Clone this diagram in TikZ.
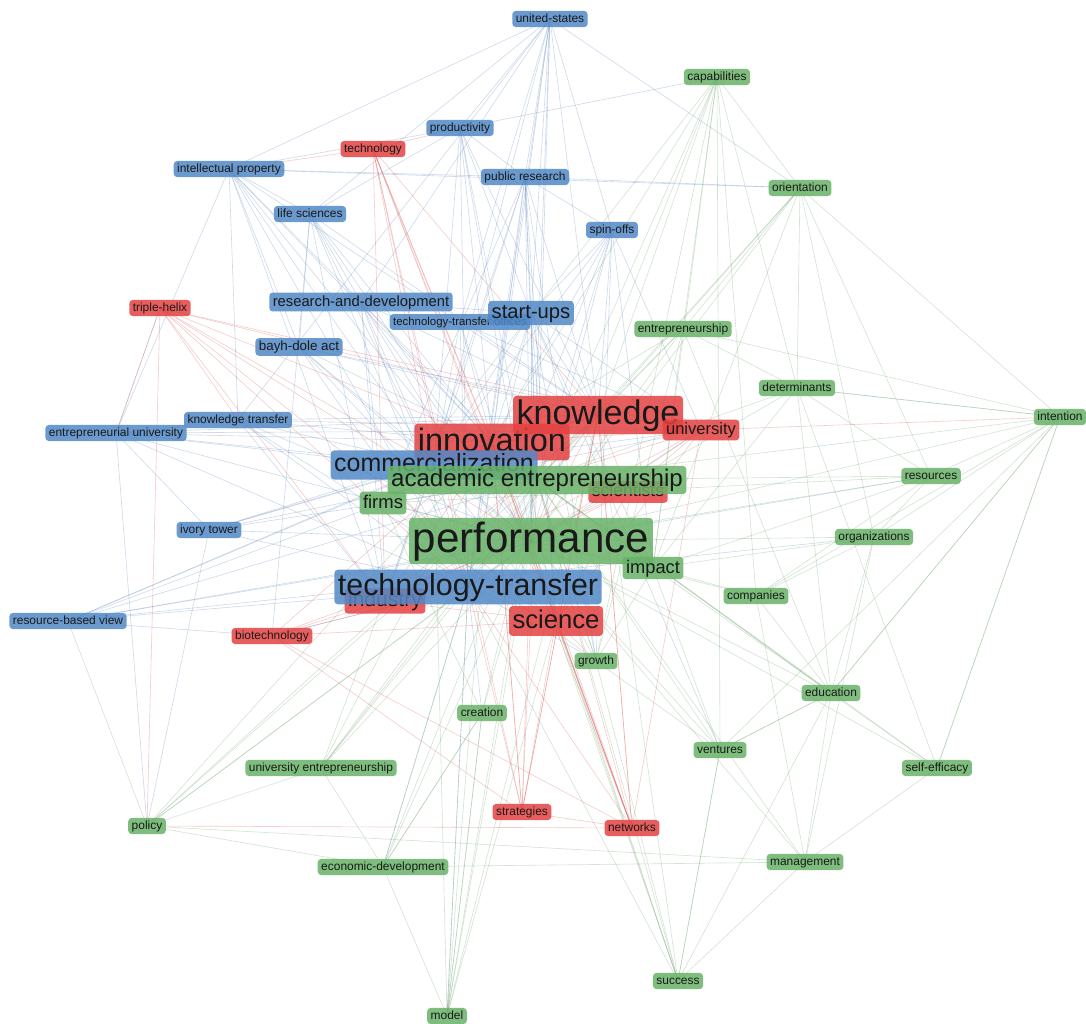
\documentclass[tikz,border=0pt]{standalone}
\usepackage{fontspec}
\setmainfont{Liberation Sans}
\usetikzlibrary{positioning}
\definecolor{kwblue}{RGB}{82,137,199}
\definecolor{kwred}{RGB}{228,66,66}
\definecolor{kwgreen}{RGB}{104,178,104}
\definecolor{edgeblue}{RGB}{95,135,190}
\definecolor{edgered}{RGB}{225,85,85}
\definecolor{edgegreen}{RGB}{110,165,110}
\pgfdeclarelayer{edges}
\pgfsetlayers{edges,main}

\begin{document}
\begin{tikzpicture}[x=0.02cm, y=-0.02cm,
  kw/.style={rounded corners=2pt, inner xsep=2pt, inner ysep=1.2pt,
    text height={0.78*#1pt}, text depth={0.22*#1pt},
    font=\fontsize{#1}{#1}\selectfont, text=black!90,
    fill opacity=0.85, text opacity=1},
  bluekw/.style={kw=#1, fill=kwblue},
  redkw/.style={kw=#1, fill=kwred},
  greenkw/.style={kw=#1, fill=kwgreen},
  blueedge/.style={draw=edgeblue, line width=0.35pt, opacity=0.3},
  rededge/.style={draw=edgered, line width=0.35pt, opacity=0.3},
  greenedge/.style={draw=edgegreen, line width=0.35pt, opacity=0.3}]

\useasboundingbox (0,0) rectangle (1086,1024);

% cluster 1 (blue)
\node[bluekw=6.8] (us) at (550,19) {united-states};
\node[bluekw=6.8] (prod) at (460,128) {productivity};
\node[bluekw=6.8] (ip) at (229,169) {intellectual property};
\node[bluekw=6.8] (pubres) at (525,177) {public research};
\node[bluekw=6.8] (lifesci) at (310,214) {life sciences};
\node[bluekw=6.8] (spinoffs) at (612,230) {spin-offs};
\node[bluekw=8.4] (rnd) at (361,302) {research-and-development};
\node[bluekw=6.5] (tto) at (460,322) {technology-transfer offices};
\node[bluekw=11.5] (startups) at (531,313) {start-ups};
\node[bluekw=7.6] (bayh) at (299,347) {bayh-dole act};
\node[bluekw=6.8] (ktrans) at (238,420) {knowledge transfer};
\node[bluekw=6.8] (entuniv) at (116,433) {entrepreneurial university};
\node[bluekw=6.8] (ivory) at (209,530) {ivory tower};
\node[bluekw=6.8] (rbv) at (68,621) {resource-based view};

% cluster 2 (red)
\node[redkw=6.8] (tech) at (373,149) {technology};
\node[redkw=6.8] (helix) at (160,308) {triple-helix};
\node[redkw=6.8] (biotech) at (272,636) {biotechnology};
\node[redkw=6.8] (strat) at (522,812) {strategies};
\node[redkw=6.8] (netw) at (632,828) {networks};

% cluster 3 (green)
\node[greenkw=6.8] (capab) at (717,77) {capabilities};
\node[greenkw=6.8] (orient) at (800,188) {orientation};
\node[greenkw=6.8] (entre) at (683,329) {entrepreneurship};
\node[greenkw=6.8] (determ) at (797,388) {determinants};
\node[greenkw=6.8] (intent) at (1060,417) {intention};
\node[greenkw=6.8] (resour) at (931,476) {resources};
\node[greenkw=6.8] (organ) at (874,537) {organizations};
\node[greenkw=6.8] (compan) at (756,596) {companies};
\node[greenkw=6.8] (growth) at (596,661) {growth};
\node[greenkw=6.8] (educ) at (831,693) {education};
\node[greenkw=6.8] (creation) at (482,713) {creation};
\node[greenkw=6.8] (ventures) at (720,750) {ventures};
\node[greenkw=6.8] (selfeff) at (937,768) {self-efficacy};
\node[greenkw=6.8] (univent) at (321,768) {university entrepreneurship};
\node[greenkw=6.8] (policy) at (147,826) {policy};
\node[greenkw=6.8] (manag) at (805,862) {management};
\node[greenkw=6.8] (econdev) at (383,867) {economic-development};
\node[greenkw=6.8] (success) at (678,981) {success};
\node[greenkw=6.8] (model) at (447,1016) {model};

% the big ones, back to front
\node[redkw=10] (scient) at (628,492) {scientists};
\node[redkw=12] (industry) at (385,601) {industry};
\node[redkw=18.5] (inno) at (492,442) {innovation};
\node[redkw=19.4] (know) at (598,415) {knowledge};
\node[redkw=9.4] (univ) at (701,430) {university};
\node[bluekw=14.2] (comm) at (434,465) {commercialization};
\node[greenkw=13.7] (acadent) at (537,480) {academic entrepreneurship};
\node[greenkw=10.5] (firms) at (383,503) {firms};
\node[greenkw=24] (perf) at (531,541) {performance};
\node[greenkw=10.4] (impact) at (653,568) {impact};
\node[bluekw=17.3] (techtr) at (468,587) {technology-transfer};
\node[redkw=14.6] (sci) at (556,621) {science};

\begin{pgfonlayer}{edges}
\fill[white] (0,0) rectangle (1086,1024);
\foreach \s/\tl in {
  us/{prod,pubres,comm,techtr,know,inno,startups,spinoffs,ip,lifesci,perf,orient,acadent,rnd,tto,ktrans},
  prod/{pubres,comm,techtr,startups,inno,know,perf,lifesci,ip,sci,capab},
  ip/{lifesci,rnd,bayh,comm,techtr,inno,know,perf,pubres,orient,ktrans,entuniv,industry},
  pubres/{startups,comm,techtr,inno,know,perf,sci,spinoffs,acadent,industry,orient,firms,growth},
  lifesci/{rnd,bayh,comm,techtr,inno,know,perf,industry,biotech},
  spinoffs/{startups,comm,techtr,perf,acadent,know,inno,univ,impact,growth},
  rnd/{startups,comm,techtr,inno,know,perf,sci,industry,firms,acadent},
  startups/{comm,techtr,perf,acadent,inno,know,univ,growth,ventures,sci,impact},
  tto/{comm,techtr,inno,startups,perf,univ},
  bayh/{comm,techtr,inno,know,perf,sci,univ},
  ktrans/{comm,techtr,inno,know,perf,sci,entuniv,univ,industry},
  entuniv/{comm,techtr,acadent,perf,inno,know,univ,policy,ivory,helix},
  comm/{techtr,perf,acadent,inno,know,sci,industry,univ,firms,scient},
  ivory/{comm,techtr,acadent,perf,univ,inno,know,policy},
  techtr/{perf,sci,acadent,industry,univ,know,inno,growth,econdev,model,creation,biotech},
  rbv/{comm,techtr,perf,acadent,firms,biotech,inno,organ,resour}}
  {\foreach \t in \tl {\draw[blueedge] (\s.center) -- (\t.center);}}

\foreach \s/\tl in {
  tech/{inno,know,perf,sci,strat,netw,techtr,comm,ip,industry,prod},
  helix/{inno,know,univ,techtr,comm,perf,sci,industry,entuniv,ktrans,policy},
  know/{inno,univ,perf,sci,acadent,scient,industry,netw,strat},
  inno/{perf,sci,univ,industry,firms,netw,strat,biotech},
  univ/{perf,sci,scient,acadent,industry,intent},
  scient/{perf,sci,acadent,industry},
  industry/{perf,sci,biotech},
  biotech/{perf,sci,techtr,netw,strat},
  sci/{perf,strat,netw,growth},
  strat/{netw,perf,acadent,know,inno,techtr},
  netw/{perf,acadent,know,inno,sci,techtr,univ,policy}}
  {\foreach \t in \tl {\draw[rededge] (\s.center) -- (\t.center);}}

\foreach \s/\tl in {
  capab/{perf,acadent,entre,impact,inno,know,firms,determ,orient,growth,ventures,compan},
  orient/{perf,acadent,entre,determ,impact,intent,resour,organ,know},
  entre/{perf,acadent,inno,know,determ,impact,educ,growth},
  determ/{perf,acadent,intent,educ,selfeff,impact,resour},
  intent/{perf,acadent,educ,selfeff,resour,determ,organ,entre,ventures,compan},
  acadent/{perf,impact,educ,firms,growth},
  firms/{perf,growth,creation},
  resour/{perf,acadent,organ,impact,firms,compan},
  perf/{impact,compan,growth,educ,organ,creation,ventures,manag,success,model,econdev,policy,univent,selfeff},
  organ/{impact,compan,educ,manag},
  impact/{compan,growth,educ,ventures},
  compan/{educ,manag},
  growth/{acadent,ventures},
  educ/{acadent,selfeff,intent,ventures,manag},
  creation/{acadent,econdev,model},
  ventures/{acadent,success,educ},
  selfeff/{acadent,intent,manag},
  univent/{acadent,techtr,econdev,policy,comm,inno,know},
  policy/{acadent,techtr,econdev,rbv,inno,know,manag},
  manag/{acadent,success,econdev},
  econdev/{acadent,techtr,model,creation},
  success/{acadent,inno,know,techtr,sci,ventures,educ,growth},
  model/{acadent,techtr,comm,inno,know,sci,creation}}
  {\foreach \t in \tl {\draw[greenedge] (\s.center) -- (\t.center);}}
\end{pgfonlayer}

\end{tikzpicture}
\end{document}
